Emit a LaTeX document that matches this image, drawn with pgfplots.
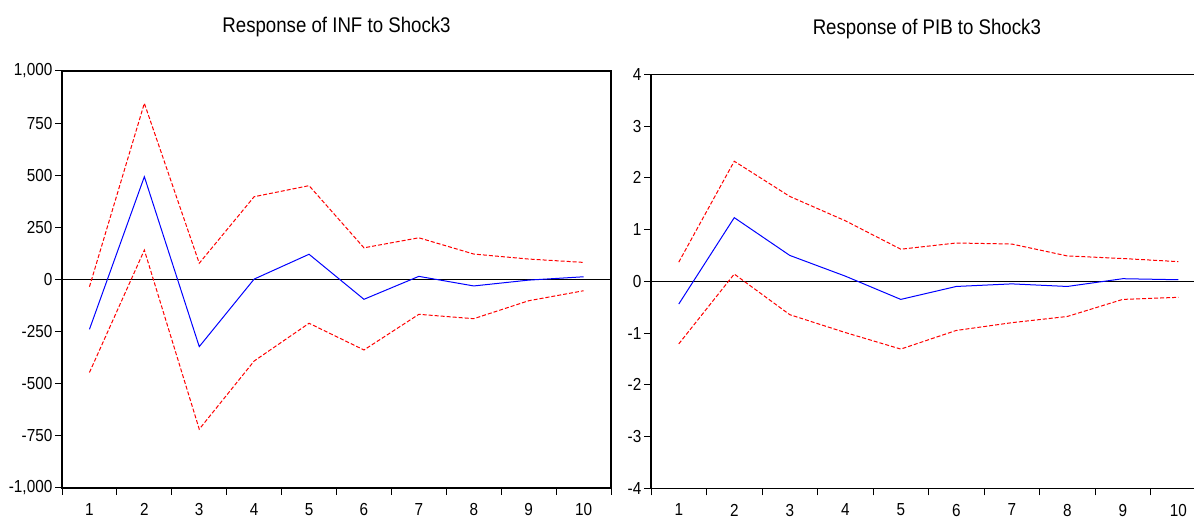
\documentclass[border=0pt]{standalone}
\usepackage{pgfplots}
\pgfplotsset{compat=1.18}
\usepackage{pgfplotstable}
\usepackage{fontspec}
\setmainfont[FakeStretch=0.88]{Liberation Sans}

\pgfplotstableread{
x upper mid lower
1 -35 -239 -446
2 845 493 141
3 78 -322 -718
4 397 2 -391
5 450 121 -210
6 152 -95 -338
7 200 15 -167
8 122 -31 -188
9 98 -3 -102
10 82 13 -54
}\infdata

\pgfplotstableread{
x upper mid lower
1 0.37 -0.44 -1.21
2 2.32 1.23 0.14
3 1.64 0.50 -0.645
4 1.17 0.10 -0.99
5 0.62 -0.35 -1.31
6 0.74 -0.10 -0.95
7 0.72 -0.05 -0.80
8 0.49 -0.10 -0.68
9 0.44 0.05 -0.35
10 0.38 0.03 -0.31
}\pibdata

\pgfplotsset{
  evstyle/.style={
    scale only axis,
    anchor=south west,
    xmin=0.5, xmax=10.5,
    axis line style={line width=1.3bp, black},
    tick align=outside,
    xtick pos=bottom, ytick pos=left,
    xtick={1,2,3,4,5,6,7,8,9,10},
    xticklabels={1,2,3,4,5,6,7,8,9,10},
    minor xtick={0.5,1.5,2.5,3.5,4.5,5.5,6.5,7.5,8.5,9.5,10.5},
    major x tick style={draw=none},
    minor x tick style={line width=1bp, black},
    major y tick style={line width=1bp, black},
    major tick length=7bp,
    minor tick length=7bp,
    ticklabel style={font=\fontsize{17.4bp}{20bp}\selectfont},
    /pgf/number format/assume math mode=true,
    xticklabel style={inner sep=0pt, anchor=north, yshift=-8.5bp},
    yticklabel style={inner sep=0pt, anchor=east, xshift=-2.5bp},
    every axis title/.style={font=\fontsize{21.2bp}{24bp}\selectfont, anchor=base, inner sep=0pt},
  },
  mid/.style={blue, line width=1bp},
  band/.style={red, line width=1bp, dash pattern=on 4bp off 2bp},
}

\begin{document}
\begin{tikzpicture}[x=1bp,y=1bp]
\path[use as bounding box] (0,0) rectangle (1194,518);

\begin{axis}[evstyle,
  at={(62bp,30bp)}, width=549bp, height=417bp,
  ymin=-1000, ymax=1000,
  ytick={-1000,-750,-500,-250,0,250,500,750,1000},
  yticklabels={{-1,000},{-750},{-500},{-250},{0},{250},{500},{750},{1,000}},
  title={Response of INF to Shock3},
  title style={at={(0.5,1)}, yshift=38.7bp},
]
\addplot[black, line width=0.8bp] coordinates {(0.5,0) (10.5,0)};
\addplot[band] table[x=x,y=upper] {\infdata};
\addplot[mid] table[x=x,y=mid] {\infdata};
\addplot[band] table[x=x,y=lower] {\infdata};
\end{axis}

\begin{axis}[evstyle,
  at={(651bp,29.7bp)}, width=555bp, height=414bp,
  ymin=-4, ymax=4,
  ytick={-4,-3,-2,-1,0,1,2,3,4},
  yticklabels={{-4},{-3},{-2},{-1},{0},{1},{2},{3},{4}},
  title={Response of PIB to Shock3},
  title style={at={(0.497,1)}, yshift=39.4bp},
]
\addplot[black, line width=0.8bp] coordinates {(0.5,0) (10.5,0)};
\addplot[band] table[x=x,y=upper] {\pibdata};
\addplot[mid] table[x=x,y=mid] {\pibdata};
\addplot[band] table[x=x,y=lower] {\pibdata};
\end{axis}
\end{tikzpicture}
\end{document}
